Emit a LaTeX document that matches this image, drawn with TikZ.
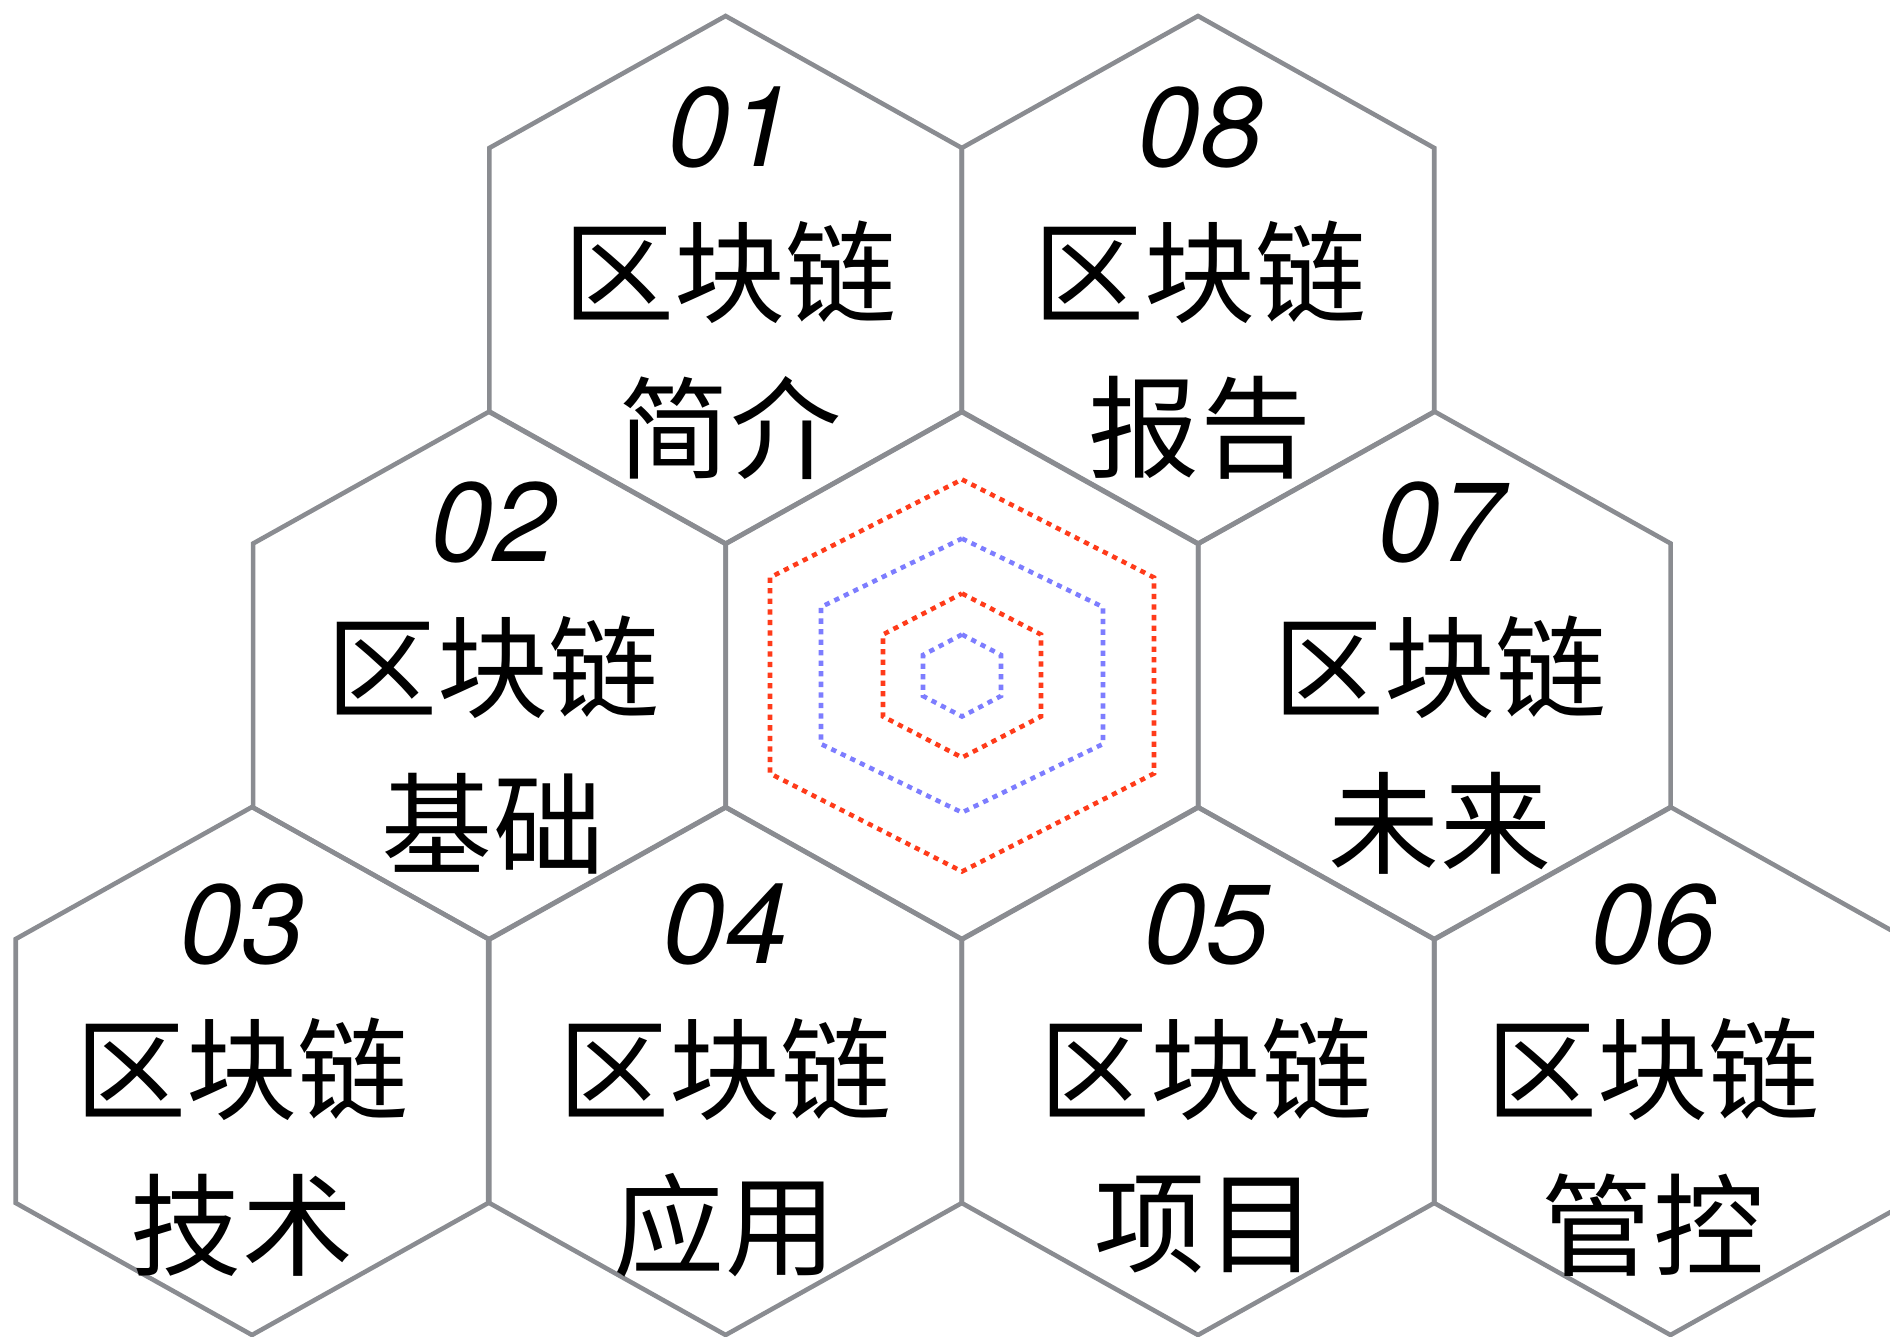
\documentclass[tikz,border=0pt]{standalone}
\usepackage{fontspec}
\usepackage{xcolor}
\usepackage{tikz}
\newfontfamily\numfont{TeX Gyre Heros}
\newfontfamily\cjk{Noto Sans CJK SC}
\definecolor{hexgray}{RGB}{138,140,145}
\definecolor{ringred}{RGB}{255,59,26}
\definecolor{ringblue}{RGB}{125,125,255}
\tikzset{
	hexcell/.style={draw=hexgray, line width=1.3pt},
	ring/.style={line width=1.3pt, dash pattern=on 1.5pt off 1.5pt},
	numlabel/.style={font=\numfont\itshape\fontsize{32}{32}\selectfont, inner sep=0pt},
	wordlabel/.style={font=\cjk\fontsize{31.6}{31.6}\selectfont, inner sep=0pt}
}

\begin{document}
\begin{tikzpicture}
					\useasboundingbox (0,0) rectangle (18.9,-13.37);
					\clip (0,0) rectangle (18.9,-13.37);
					% Define the cells
					\foreach \x/\y in {7.256/-2.8,11.98/-2.8,4.894/-6.755,9.62/-6.755,14.344/-6.755,2.52/-10.71,7.256/-10.71,11.98/-10.71,16.705/-10.71}
						\draw[hexcell] (\x,\y+2.64) -- (\x+2.3625,\y+1.32) -- (\x+2.3625,\y-1.32) -- (\x,\y-2.64) -- (\x-2.3625,\y-1.32) -- (\x-2.3625,\y+1.32) -- cycle;
					% Add labels to the cells
					\foreach \x/\y/\n/\w in {7.30/-2.8/01/简介,4.93/-6.755/02/基础,2.42/-10.77/03/技术,7.25/-10.77/04/应用,12.06/-10.77/05/项目,16.53/-10.77/06/管控,14.40/-6.755/07/未来,12.00/-2.8/08/报告}{
						\node[numlabel] (n\n) at (\x,\y+1.53) {\n};
						\node[wordlabel] (t\n) at (\x,\y+0.08) {区块链};
						\node[wordlabel] (w\n) at (\x,\y-1.48) {\w};}
					% Rings in the middle cell
					\foreach \hw/\r/\c in {1.92/1.96/ringred,1.41/1.37/ringblue,0.79/0.82/ringred,0.39/0.41/ringblue}
						\draw[ring, draw=\c] (9.62,-6.755+\r) -- (9.62+\hw,-6.755+\r/2) -- (9.62+\hw,-6.755-\r/2) -- (9.62,-6.755-\r) -- (9.62-\hw,-6.755-\r/2) -- (9.62-\hw,-6.755+\r/2) -- cycle;
				\end{tikzpicture}
\end{document}
